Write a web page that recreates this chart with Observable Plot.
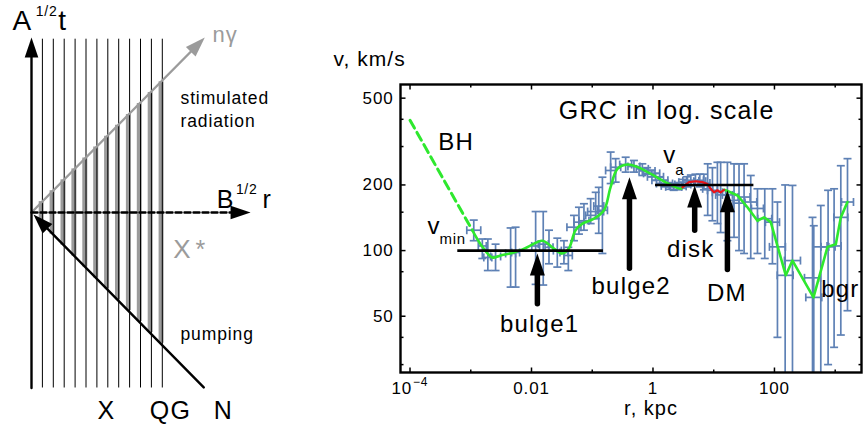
<!DOCTYPE html>
<html>
<head>
<meta charset="utf-8">
<script src="https://cdn.jsdelivr.net/npm/d3@7"></script>
<script src="https://cdn.jsdelivr.net/npm/@observablehq/plot@0.6"></script>
<style>
html, body { margin:0; padding:0; background:#fff; }
#wrap { position:relative; width:863px; height:429px; overflow:hidden; background:#fff; }
#left, #right { position:absolute; top:0; }
#left { left:0; width:330px; height:429px; }
#right { left:330px; width:533px; height:429px; }
#wrap text { letter-spacing: 0.05em; }
</style>
</head>
<body>
<div id="wrap"><div id="left"></div><div id="right"></div></div>
<script>
// ================= RIGHT PANEL DATA: rotation curve (r in kpc, v in km/s) =================
const obsR   = [0.00112,0.00155,0.00191,0.00256,0.00453,0.00547,0.0117,0.0156,0.0194,0.0266,
                0.0342,0.0404,0.050,0.0604,0.073,0.0942,0.114,0.128,0.147,0.201,
                0.243,0.355,0.486,0.668,0.8,0.95,1.1,1.3,1.55,1.85,
                2.2,2.6,3.1,3.6,4.2,5.0,5.9,6.9,7.96,9.52,
                11.5,13.0,16.8,21.6,26.1,31.6,40.7,52.5,69.2,92.6,
                112,150,198,423,444,579,764,959,1237,1594];
const obsV   = [124,105,93,94,97,98,105,107,103.5,100,
                98,95,128,135,137,145,151,160,153,233,
                241,248,243,237,232,226,218,210,203,198,
                196,197,201,206,209,210,208,204,192,189,
                185,180,180,170,165,176,167,156,140,135,
                104,77,90,75,61,104,104,105,142,167];
const obsVlo = [111,92,81,81,68,68,70,69.5,87,84,
                87,81,111,119,124,133,140,120,97,203,
                206,229,229,221,224,218,210,203,196,191,
                189,190,193,196,198,199,196,190,145,137,
                133,121,111,115,100,97,92,97,92,87,
                40,20,20,20,20,20,30,36,41,53];
const obsVhi = [138,113,113,107,127,128,151,151,124,114,
                111,103.5,145,158,164,173,185,195,217,283,
                264,268,259,250,240,234,226,217,210,205,
                203,205,212,218,222,224,224,224,250,240,
                254,254,254,250,250,250,221,192,192,192,
                167,200,199,142,130,161,189,192,245,264];
const obsRlo = [0.00086,0.00133,0.00164,0.00212,0.00375,0.0047,0.0101,0.0129,0.0167,0.0229,
                0.0294,0.0347,0.0383,0.050,0.0604,0.078,0.084,0.106,0.122,0.166,
                0.201,0.283,0.387,0.532,0.59,0.70,0.81,0.96,1.14,1.37,
                1.62,1.92,2.29,2.66,3.1,3.69,4.7,5.5,6.58,7.87,
                9.5,10.75,13.9,17.9,20.8,25.2,32.4,41.8,53,71,
                82.7,111,146,312,328,428,586,735,949,1270];
const obsRhi = [0.00146,0.0018,0.00222,0.0031,0.00548,0.00637,0.0136,0.0189,0.0226,0.031,
                0.0398,0.047,0.0652,0.073,0.0883,0.114,0.154,0.155,0.178,0.243,
                0.294,0.446,0.61,0.838,1.08,1.29,1.49,1.76,2.1,2.5,
                2.98,3.52,4.2,4.87,5.69,6.77,7.4,8.66,9.62,11.5,
                13.9,15.7,20.3,26.1,32.8,39.7,51.1,65.9,90.2,121,
                151.6,203,268,573,601,784,996,1250,1613,2000];

// fitted curve: BH part (dashed), inner (smooth), disk part (red), outer
const bhR    = [0.0001, 0.00106];
const bhV    = [396, 124];
const innerR = [0.00106,0.00145,0.00226,0.0031,0.0051,0.0085,0.0151,0.0234,0.032,0.041,0.053,0.069,0.107,0.156,0.20,0.26,0.38,0.55,0.92,1.73,2.86,3.05];
const innerV = [124,107,93,95,98,103.5,111,102,97,102,124,133,140,153,195,237,248,242,225,204,192,195];
const diskR  = [3.05,3.92,5.05,6.5,7.9,8.9,10.1,11.5,13,14.8];
const diskV  = [195,206,208,206,202,192,185,189,185,190];
const outerR = [14.8,15.8,24.6,35.9,52.5,67.4,86.9,153.6,198,439,747,1023,1237,1594];
const outerV = [190,189,179,158,137,142,135,77,90,61,104,107,142,167];

// reference levels v_min and v_a
const levelV  = [100, 200];
const levelR1 = [0.0006, 1.08];
const levelR2 = [0.15, 45];

// arrows: bulge1, bulge2, disk, DM
const arrowNames = ["bulge1","bulge2","disk","DM"];
const arrowR     = [0.0125, 0.41, 4.86, 16.8];
const arrowFrom  = [57, 83, 124, 82];
const arrowTo    = [97, 217, 199, 189];

// annotations
const annotText = ["BH","bulge1","bulge2","disk","DM"];
const annotR    = [0.000573, 0.0136, 0.4375, 4.18, 16.4];
const annotV    = [290, 42.4, 63.4, 93.2, 58.9];

// axis ticks
const xMajor = [1e-4, 1e-2, 1, 100];
const xMajorLabel = ["10", "0.01", "1", "100"];
const xMajorExp   = ["\u22124", "", "", ""];
const xMinor = [1e-3, 0.1, 10, 1000];
const yMajor = [50, 100, 200, 500];
const yMinor = [30, 40, 80, 150, 300, 400];

// ================= LEFT PANEL DATA: schematic =================
const levels = [1,2,3,4,5,6,7,8,9,10,11,12];   // discrete levels (thin vertical lines)
const levelTop = 15.9, levelBottom = -16.1;
const coneSlope = 1;
const timeAxis   = [{x1:0, y1:-16.1, x2:0, y2:16.05}];
const radiusAxis = [{x1:0, y1:0, x2:20.1, y2:0}];
const photonRay  = [{x1:0, y1:0, x2:15.9, y2:16.05}];
const pumpRay    = [{x1:15.8, y1:-16.05, x2:0.18, y2:-0.18}];

// ================= helpers =================
const FONT = "'Liberation Sans', Arial, Helvetica, sans-serif";
const BLUE = "#5e81b5", GREEN = "#2ee82e", RED = "#e8141b", GRAY = "#9b9b9b";
function rot(a){ const r=a*Math.PI/180, c=Math.cos(r), s=Math.sin(r); return (x,y)=>[x*c-y*s, x*s+y*c]; }
function headSymbol(angle){ const p=rot(angle); return {draw(ctx,size){ const L=Math.sqrt(size/Math.PI), w=0.34*L;
  ctx.moveTo(0,0); let q=p(w,L); ctx.lineTo(q[0],q[1]); q=p(-w,L); ctx.lineTo(q[0],q[1]); ctx.closePath(); }}; }
function tickSymbol(angle){ const p=rot(angle); return {draw(ctx,size){ const L=Math.sqrt(size/Math.PI);
  ctx.moveTo(0,0); const q=p(0,-L); ctx.lineTo(q[0],q[1]); }}; }
function capSymbol(angle){ const p=rot(angle); return {draw(ctx,size){ const L=Math.sqrt(size/Math.PI);
  let q=p(-L,0); ctx.moveTo(q[0],q[1]); q=p(L,0); ctx.lineTo(q[0],q[1]); }}; }
const angleOf = d => Math.atan2(d.x2-d.x1, d.y2-d.y1)*180/Math.PI;
const label = (t, x, y, o) => Plot.text([t], {x: () => x, y: () => y, text: d => d, textAnchor: "start", lineAnchor: "bottom", fill: "#000", ...o});

// ================= LEFT PLOT =================
const leftPlot = Plot.plot({
  width: 330, height: 429, margin: 0,
  x: {domain: [-31/10.9, 299/10.9], axis: null},
  y: {domain: [-217/10.9, 212/10.9], axis: null},
  style: {fontFamily: FONT, background: "transparent", overflow: "visible"},
  marks: [
    Plot.ruleX(levels, {x: d => d, y1: d => -coneSlope*d, y2: d => coneSlope*d, stroke: GRAY, strokeWidth: 5, dx: -1.2}),
    Plot.ruleX(levels, {x: d => d, y1: () => levelBottom, y2: () => levelTop, stroke: "#000", strokeWidth: 1}),
    Plot.arrow(photonRay, {x1:"x1", y1:"y1", x2:"x2", y2:"y2", headLength:0, insetEnd:14, stroke: GRAY, strokeWidth: 2.4}),
    Plot.dot(photonRay, {x:"x2", y:"y2", symbol: headSymbol(angleOf(photonRay[0])), r: 20, fill: GRAY, stroke: "none"}),
    Plot.arrow(timeAxis, {x1:"x1", y1:"y1", x2:"x2", y2:"y2", headLength:0, insetEnd:14, stroke:"#000", strokeWidth: 2.4}),
    Plot.dot(timeAxis, {x:"x2", y:"y2", symbol: headSymbol(angleOf(timeAxis[0])), r: 20, fill:"#000", stroke:"none"}),
    Plot.arrow(radiusAxis, {x1:"x1", y1:"y1", x2:"x2", y2:"y2", headLength:0, insetEnd:14, stroke:"#000", strokeWidth: 2.4, strokeDasharray:"6,3"}),
    Plot.dot(radiusAxis, {x:"x2", y:"y2", symbol: headSymbol(angleOf(radiusAxis[0])), r: 20, fill:"#000", stroke:"none"}),
    Plot.arrow(pumpRay, {x1:"x1", y1:"y1", x2:"x2", y2:"y2", headLength:0, insetEnd:14, stroke:"#000", strokeWidth: 2.4}),
    Plot.dot(pumpRay, {x:"x2", y:"y2", symbol: headSymbol(angleOf(pumpRay[0])), r: 20, fill:"#000", stroke:"none"}),
    // labels
    label("A",   -1.75, 16.7, {fontSize: 28}),
    label("1/2",  0.4,  18.0, {fontSize: 14}),
    label("t",    2.45, 16.7, {fontSize: 28}),
    label("B",   17.0,  0.37, {fontSize: 25}),
    label("1/2", 18.75, 1.7,  {fontSize: 14}),
    label("r",   21.2,  0.37, {fontSize: 25}),
    label("n\u03b3", 16.6, 15.6, {fontSize: 22, fill: GRAY}),
    label("X",   13.0, -4.22, {fontSize: 26, fill: GRAY}),
    label("*",   15.05, -4.22, {fontSize: 25, fill: GRAY}),
    label("stimulated", 13.67, 9.97, {fontSize: 17.5}),
    label("radiation",  13.67, 7.83, {fontSize: 17.5}),
    label("pumping",    13.67, -11.74, {fontSize: 17.5}),
    Plot.text(["X","QG","N"], {x: (d,i) => [6.88,12.75,17.61][i], y: () => -18.9, text: d => d, textAnchor:"middle", lineAnchor:"bottom", fontSize: 25, fill:"#000"})
  ]
});
document.getElementById("left").append(leftPlot);

// ================= RIGHT PLOT =================
const obs = obsR.map((r,i) => ({r, v: obsV[i], lo: obsVlo[i], hi: obsVhi[i], rlo: obsRlo[i], rhi: obsRhi[i]}));
const toPts = (R,V) => R.map((r,i) => ({r, v: V[i]}));
const levelsData = levelV.map((v,i) => ({v, r1: levelR1[i], r2: levelR2[i]}));
const arrowsData = arrowNames.map((n,i) => ({name:n, r: arrowR[i], from: arrowFrom[i], to: arrowTo[i]}));
const annots = annotText.map((t,i) => ({t, r: annotR[i], v: annotV[i]}));
const xLab = xMajor.map((x,i) => ({x, t: xMajorLabel[i], e: xMajorExp[i]}));
const barStyle = {stroke: BLUE, strokeWidth: 1.7, clip: true};
const capStyle = {stroke: BLUE, strokeWidth: 1.7, fill: "none", r: 4, clip: true};
const tickStyle = {stroke: "#000", strokeWidth: 1.5, fill: "none"};

const rightPlot = Plot.plot({
  width: 533, height: 429,
  marginLeft: 70, marginRight: 2, marginTop: 84, marginBottom: 57,
  x: {type: "log", domain: [6.97e-5, 2710], axis: null},
  y: {type: "log", domain: [27.6, 577.6], axis: null},
  style: {fontFamily: FONT, background: "transparent", overflow: "visible"},
  marks: [
    Plot.link(obs, {x1:"r", x2:"r", y1:"lo", y2:"hi", ...barStyle}),
    Plot.link(obs, {x1:"rlo", x2:"rhi", y1:"v", y2:"v", ...barStyle}),
    Plot.dot(obs, {x:"r", y:"lo", symbol: capSymbol(0), ...capStyle}),
    Plot.dot(obs, {x:"r", y:"hi", symbol: capSymbol(0), ...capStyle}),
    Plot.dot(obs, {x:"rlo", y:"v", symbol: capSymbol(90), ...capStyle}),
    Plot.dot(obs, {x:"rhi", y:"v", symbol: capSymbol(90), ...capStyle}),
    Plot.line(toPts(bhR, bhV), {x:"r", y:"v", stroke: GREEN, strokeWidth: 3, strokeDasharray: "9,5"}),
    Plot.line(toPts(innerR, innerV), {x:"r", y:"v", stroke: GREEN, strokeWidth: 2.6, curve: "catmull-rom"}),
    Plot.line(toPts(outerR, outerV), {x:"r", y:"v", stroke: GREEN, strokeWidth: 2.6}),
    Plot.line(toPts(diskR, diskV), {x:"r", y:"v", stroke: RED, strokeWidth: 2.2}),
    Plot.link(levelsData, {x1:"r1", x2:"r2", y1:"v", y2:"v", stroke:"#000", strokeWidth: 2.6}),
    Plot.arrow(arrowsData, {x1:"r", x2:"r", y1:"from", y2:"to", headLength: 0, insetEnd: 14, stroke:"#000", strokeWidth: 5.5}),
    Plot.dot(arrowsData, {x:"r", y:"to", symbol: headSymbol(0), r: 22, fill:"#000", stroke:"none"}),
    // annotations
    Plot.text(["GRC in log. scale"], {x: () => 1.68, y: () => 403, text: d => d, fontSize: 25, lineAnchor:"bottom", textAnchor:"middle", fill:"#000"}),
    Plot.text(annots, {x:"r", y:"v", text:"t", fontSize: 24, lineAnchor:"bottom", textAnchor:"middle", fill:"#000"}),
    Plot.text(["bgr"], {x: () => 588, y: () => 61.5, text: d => d, fontSize: 24, lineAnchor:"bottom", textAnchor:"start", fill:"#000"}),
    Plot.text(["v"], {x: () => 0.000194, y: () => 119.7, text: d => d, fontSize: 24, lineAnchor:"bottom", textAnchor:"start", fill:"#000"}),
    Plot.text(["min"], {x: () => 0.000306, y: () => 107.7, text: d => d, fontSize: 15, lineAnchor:"bottom", textAnchor:"start", fill:"#000"}),
    Plot.text(["v"], {x: () => 1.48, y: () => 251.4, text: d => d, fontSize: 24, lineAnchor:"bottom", textAnchor:"start", fill:"#000"}),
    Plot.text(["a"], {x: () => 2.32, y: () => 221.2, text: d => d, fontSize: 15, lineAnchor:"bottom", textAnchor:"start", fill:"#000"}),
    // frame and inward ticks
    Plot.frame({stroke:"#000", strokeWidth: 2.4}),
    Plot.dot(xMajor, {x: d => d, frameAnchor:"bottom", symbol: tickSymbol(0), r: 5, ...tickStyle}),
    Plot.dot(xMinor, {x: d => d, frameAnchor:"bottom", symbol: tickSymbol(0), r: 3, ...tickStyle}),
    Plot.dot(xMajor, {x: d => d, frameAnchor:"top", symbol: tickSymbol(180), r: 5, ...tickStyle}),
    Plot.dot(xMinor, {x: d => d, frameAnchor:"top", symbol: tickSymbol(180), r: 3, ...tickStyle}),
    Plot.dot(yMajor, {y: d => d, frameAnchor:"left", symbol: tickSymbol(90), r: 5, ...tickStyle}),
    Plot.dot(yMinor, {y: d => d, frameAnchor:"left", symbol: tickSymbol(90), r: 3, ...tickStyle}),
    Plot.dot(yMajor, {y: d => d, frameAnchor:"right", symbol: tickSymbol(-90), r: 5, ...tickStyle}),
    Plot.dot(yMinor, {y: d => d, frameAnchor:"right", symbol: tickSymbol(-90), r: 3, ...tickStyle}),
    // tick labels
    Plot.text(yMajor, {y: d => d, frameAnchor:"left", text: d => String(d), textAnchor:"end", dx: -7, fontSize: 17, fill:"#000"}),
    Plot.text(xLab.filter(d => !d.e), {x:"x", frameAnchor:"bottom", text:"t", textAnchor:"middle", dy: 21, lineAnchor:"bottom", fontSize: 17, fill:"#000"}),
    Plot.text(xLab.filter(d => d.e), {x:"x", frameAnchor:"bottom", text:"t", textAnchor:"end", dx: 2, dy: 21, lineAnchor:"bottom", fontSize: 17, fill:"#000"}),
    Plot.text(xLab.filter(d => d.e), {x:"x", frameAnchor:"bottom", text:"e", textAnchor:"start", dx: 3, dy: 13, lineAnchor:"bottom", fontSize: 12, fill:"#000"}),
    // axis titles
    Plot.text(["v, km/s"], {frameAnchor:"top-left", text: d => d, dx: -67, dy: -19, textAnchor:"start", lineAnchor:"bottom", fontSize: 21, fill:"#000"}),
    Plot.text(["r, kpc"], {frameAnchor:"bottom", text: d => d, dx: 20, dy: 42, textAnchor:"middle", lineAnchor:"bottom", fontSize: 20, fill:"#000"})
  ]
});
document.getElementById("right").append(rightPlot);
</script>
</body>
</html>
